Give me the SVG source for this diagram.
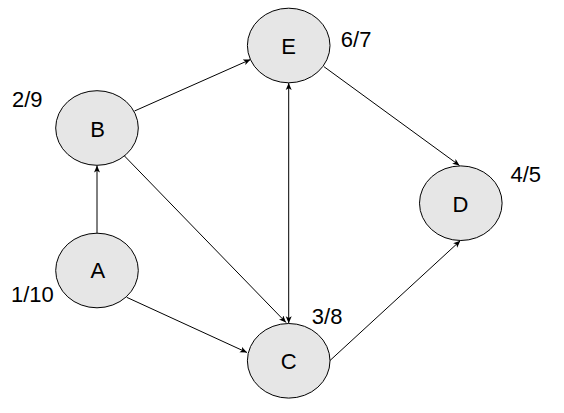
<svg xmlns="http://www.w3.org/2000/svg" width="564" height="413" viewBox="0 0 564 413">
  <style>
    .node ellipse { fill: #e6e6e6; stroke: #000; stroke-width: 1; }
    .node text { font-family: "Liberation Sans", Arial, sans-serif; font-size: 22px; fill: #000; text-anchor: middle; }
    .lbl { font-family: "Liberation Sans", Arial, sans-serif; font-size: 22px; fill: #000; }
    .edge { stroke: #000; stroke-width: 1; fill: none; marker-end: url(#arrow); }
  </style>
  <defs>
    <marker id="arrow" markerUnits="userSpaceOnUse" markerWidth="8" markerHeight="7" refX="7" refY="3" orient="auto">
      <path d="M0,0 L7,3 L0,6 L1.75,3 Z" fill="#000" stroke="none"/>
    </marker>
    <marker id="arrowStart" markerUnits="userSpaceOnUse" markerWidth="8" markerHeight="7" refX="0" refY="3" orient="auto">
      <path d="M7,0 L0,3 L7,6 L5.25,3 Z" fill="#000" stroke="none"/>
    </marker>
  </defs>
  <rect width="564" height="413" fill="#fff"/>
  <g id="connectors">
    <line class="edge" x1="97" y1="233.3" x2="97" y2="165.5"/>
    <line class="edge" x1="134.5" y1="111" x2="250.5" y2="59.5"/>
    <line class="edge" x1="124.5" y1="156" x2="286" y2="322.5"/>
    <line class="edge" x1="126.7" y1="297.3" x2="247" y2="352.5"/>
    <line class="edge" x1="330" y1="360.5" x2="460.3" y2="240.7"/>
    <line class="edge" x1="324" y1="66.7" x2="459.5" y2="165.5"/>
    <line class="edge" style="marker-start: url(#arrowStart)" x1="288.7" y1="83" x2="288.7" y2="323.3"/>
  </g>
  <g id="node-E" class="node">
    <ellipse cx="288.7" cy="45.5" rx="41.3" ry="37.3"/>
    <text x="288.7" y="53.8">E</text>
  </g>
  <g id="node-B" class="node">
    <ellipse cx="97" cy="128" rx="41.3" ry="37.3"/>
    <text x="97.7" y="136.5">B</text>
  </g>
  <g id="node-D" class="node">
    <ellipse cx="460.8" cy="203.2" rx="41.3" ry="37.3"/>
    <text x="460.5" y="211.5">D</text>
  </g>
  <g id="node-A" class="node">
    <ellipse cx="97" cy="270.5" rx="41.3" ry="37.3"/>
    <text x="97.8" y="278.3">A</text>
  </g>
  <g id="node-C" class="node">
    <ellipse cx="288.7" cy="360.8" rx="41.3" ry="37.3"/>
    <text x="288.7" y="368.8">C</text>
  </g>
  <g id="labels">
    <text class="lbl" x="340.8" y="46.7">6/7</text>
    <text class="lbl" x="12" y="106.7">2/9</text>
    <text class="lbl" x="510.5" y="182.3">4/5</text>
    <text class="lbl" x="11" y="301.7">1/10</text>
    <text class="lbl" x="311.8" y="324">3/8</text>
  </g>
</svg>
